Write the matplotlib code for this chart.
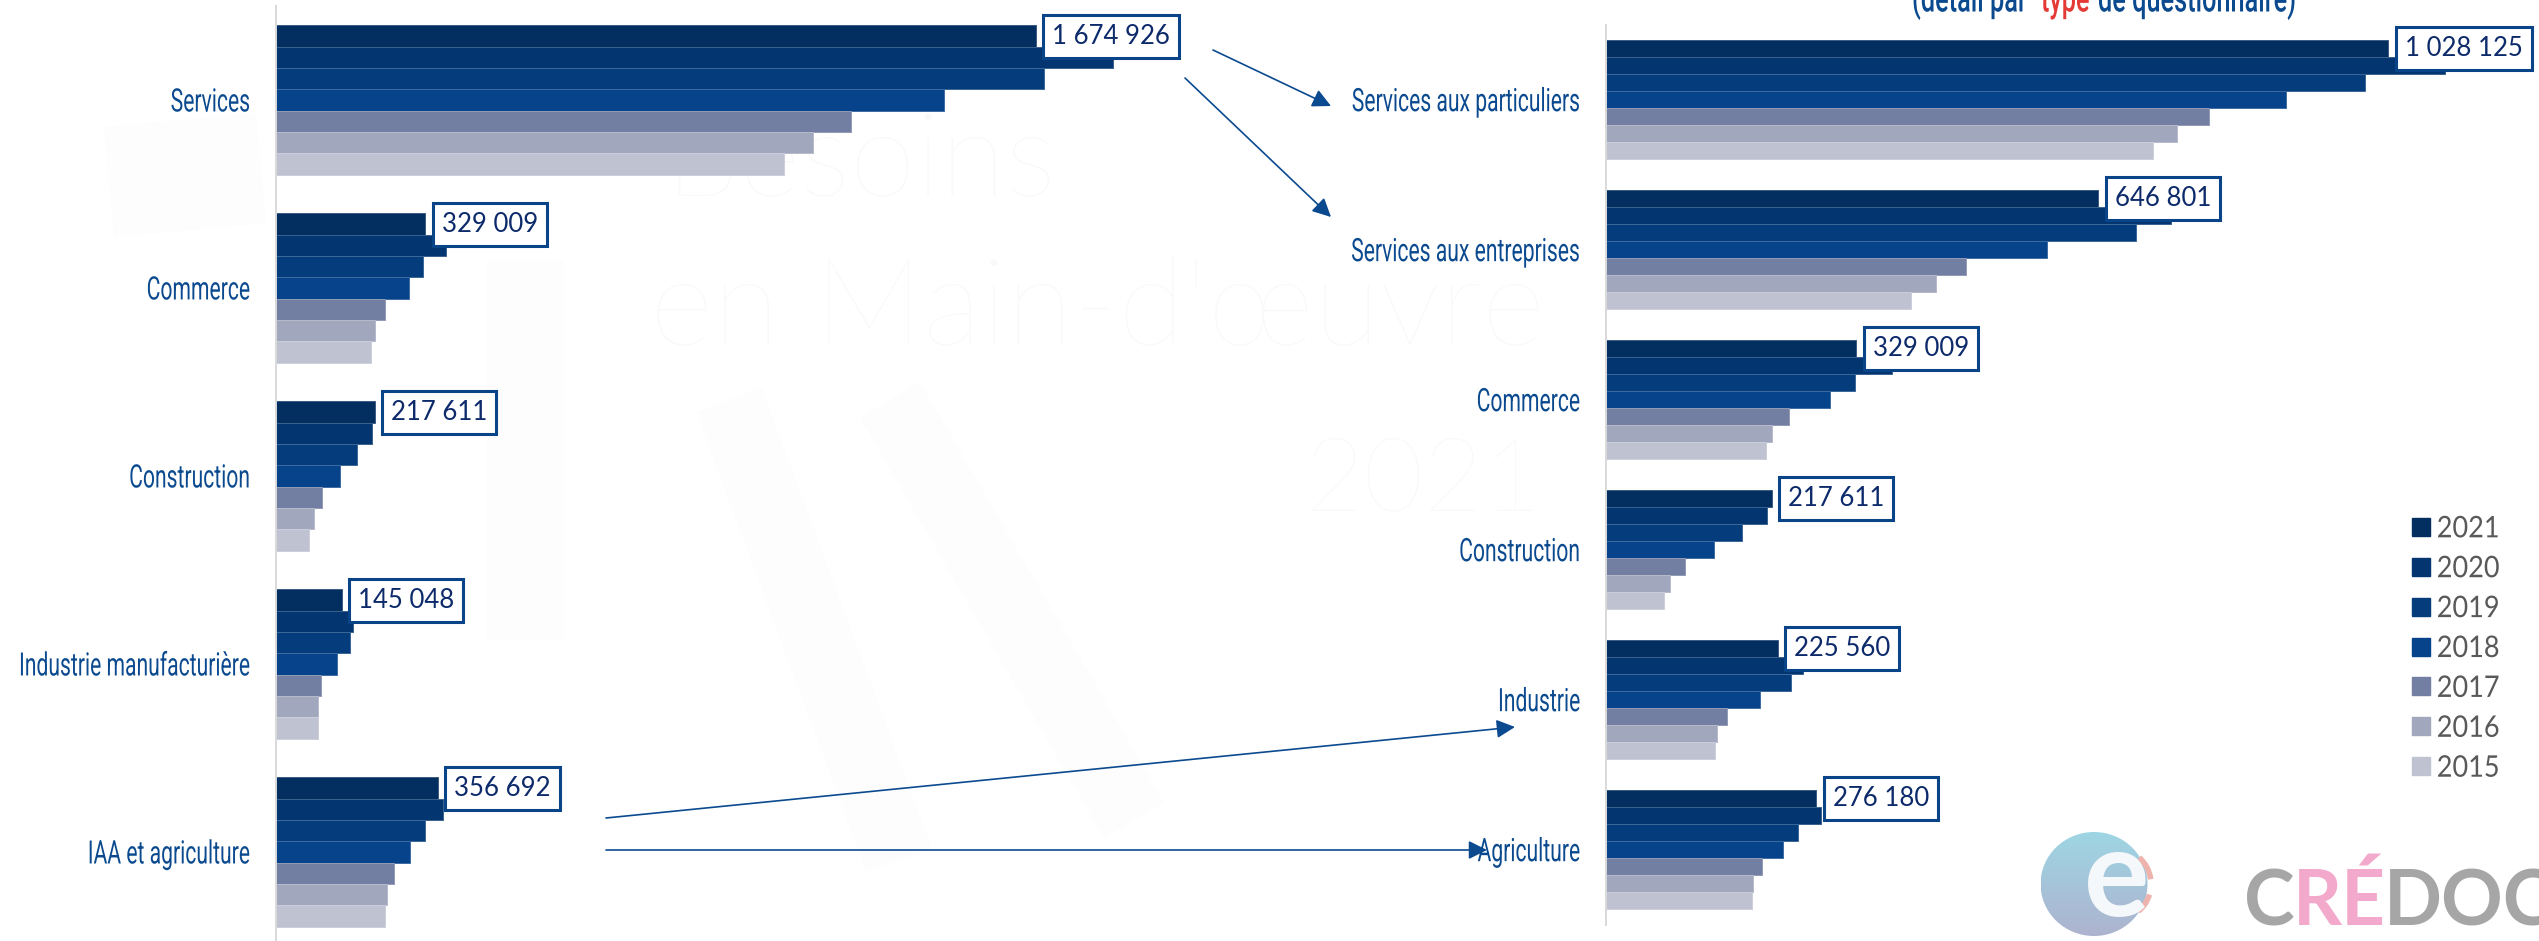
import numpy as np
import matplotlib
matplotlib.use("Agg")
import matplotlib.pyplot as plt
from matplotlib import font_manager as fm
from matplotlib import patheffects as pe
from matplotlib.transforms import Affine2D
from matplotlib.patches import Patch, Ellipse, Arc
from matplotlib.colors import to_rgb

years = ["2021", "2020", "2019", "2018", "2017", "2016", "2015"]
colors = ["#032E60", "#033670", "#043C7C", "#06438A", "#727FA2", "#A1A7BC", "#BEC2D1"]

left_cats = ["Services", "Commerce", "Construction", "Industrie manufacturière", "IAA et agriculture"]
left_vals = [
    [1674926, 1844500, 1692800, 1473100, 1267800, 1183900, 1119600],
    [329009, 375000, 323200, 292800, 239300, 217800, 208900],
    [217611, 210700, 178600, 141100, 101800, 83900, 73200],
    [145048, 169600, 162500, 133900, 100000, 92900, 92900],
    [356692, 367800, 328500, 296400, 260700, 244600, 239300],
]
right_cats = ["Services aux particuliers", "Services aux entreprises", "Commerce", "Construction", "Industrie", "Agriculture"]
right_vals = [
    [1028125, 1102600, 997300, 893000, 792900, 750300, 718400],
    [646801, 741800, 696000, 580000, 473600, 434200, 401200],
    [329009, 375700, 326700, 293700, 240500, 218200, 210700],
    [217611, 211800, 178800, 141600, 104300, 84100, 75600],
    [225560, 258600, 242700, 202200, 159600, 145800, 142600],
    [276180, 282000, 252200, 233100, 205400, 193700, 191600],
]
labels_left = ["1 674 926", "329 009", "217 611", "145 048", "356 692"]
labels_right = ["1 028 125", "646 801", "329 009", "217 611", "225 560", "276 180"]

W, H = 2539, 941
fig = plt.figure(figsize=(W/100, H/100), dpi=100, facecolor="white")
BLUE = "#0B4A8F"
NARROW = "Roboto"
NUMF = "Lato"


class TallText(pe.AbstractPathEffect):
    """Stretch a text vertically about mid cap height: the reference face is a condensed one."""
    def __init__(self, sy):
        super().__init__()
        self.sy = sy

    def draw_path(self, renderer, gc, tpath, affine, rgbFace=None):
        pre = Affine2D().translate(0, -35.5).scale(1, self.sy).translate(0, 35.5)
        renderer.draw_path(gc, tpath, pre + affine, rgbFace)


def fx(x): return x / W
def fy(y): return 1 - y / H

# faint background artwork
bg = fig.add_axes([0, 0, 1, 1], zorder=0)
bg.set_xlim(0, W); bg.set_ylim(H, 0); bg.axis("off")
for a, b, lw in [((729, 400), (899, 860), 50), ((890, 400), (1134, 820), 50), ((525, 260), (525, 640), 55), ((180, 120), (190, 230), 110)]:
    bg.plot([a[0], b[0]], [a[1], b[1]], color="#FDFDFE", lw=lw, solid_capstyle="butt")
for s, x, y, fs in [("Besoins", 664, 195, 86), ("en Main-d'œuvre", 650, 345, 88), ("2021", 1304, 510, 74)]:
    bg.text(x, y, s, color="#F9F9FA", fontsize=fs, family="Lato", weight="light")


def lighten(c, t=0.22):
    r = np.array(to_rgb(c))
    return tuple(r + (1 - r) * t)


def panel(x0, y0, x1, y1, cats, vals, labels, scale, group_frac, fs_lab, sy):
    ax = fig.add_axes([fx(x0), fy(y1), fx(x1 - x0), (y1 - y0) / H], zorder=2)
    ax.patch.set_alpha(0)
    n = len(cats)
    h = group_frac / 7
    for j, yr in enumerate(years):
        off = (j - 3) * h
        v = [row[j] for row in vals]
        ax.barh(np.arange(n) + off, v, height=h, color=colors[j], edgecolor=lighten(colors[j]), linewidth=0.7, zorder=2)
    ax.set_ylim(n - 0.5, -0.5)
    ax.set_xlim(0, (x1 - x0) / scale)
    for s in ["top", "right", "bottom"]:
        ax.spines[s].set_visible(False)
    ax.spines["left"].set_color("#D9D9D9")
    ax.spines["left"].set_linewidth(1.4)
    ax.spines["left"].set_zorder(3)
    ax.set_xticks([])
    ax.set_yticks(np.arange(n), cats, family=NARROW, fontsize=fs_lab, color=BLUE)
    for t in ax.get_yticklabels():
        t.set_path_effects([TallText(sy)])
    ax.tick_params(axis="y", length=0, pad=18.5)
    for i, lab in enumerate(labels):
        ax.annotate(lab, (vals[i][0], i - 3 * h), xytext=(11.8, 0), textcoords="offset points",
                    ha="left", va="center", fontsize=18.5, family=NUMF, color="#0D2A6B", zorder=5,
                    bbox=dict(boxstyle="square,pad=0.35", fc="white", ec="#0A4488", lw=2.2))
    return ax


panel(276, 6, 1240, 946, left_cats, left_vals, labels_left, 760 / 1674926, 0.794, 15.2, 1.53)
panel(1606, 24.7, 2500, 924.7, right_cats, right_vals, labels_right, 782.4 / 1028125, 0.795, 15.2, 1.53)

# arrows between the panels
ov = fig.add_axes([0, 0, 1, 1], zorder=10)
ov.set_xlim(0, W); ov.set_ylim(H, 0); ov.axis("off"); ov.patch.set_alpha(0)
for a, b in [((1213, 50), (1331, 106)), ((1185, 78), (1331, 217)), ((606, 818), (1515, 727)), ((606, 850), (1487, 850))]:
    ov.annotate("", xy=b, xytext=a, arrowprops=dict(arrowstyle="-|>,head_length=0.8,head_width=0.4", color=BLUE, lw=1.2, shrinkA=0, shrinkB=0, mutation_scale=14))

# clipped subtitle
for s, x, c in [("(détail par", 1912, BLUE), ("type", 2041, "#E53935"), ("de questionnaire)", 2098, BLUE)]:
    t = ov.text(x, 7, s, color=c, fontsize=18.2, family=NARROW, weight="medium", va="baseline", ha="left")
    t.set_path_effects([TallText(1.5)])

# legend
handles = [Patch(color=c, label=y) for c, y in zip(colors, years)]
leg = fig.legend(handles=handles, loc="upper left", bbox_to_anchor=(fx(2388), fy(492)), frameon=False,
                 prop=fm.FontProperties(family=NUMF, size=19.5), labelcolor="#595959",
                 handlelength=0.65, handleheight=0.65, handletextpad=0.25, labelspacing=0.55)
for t in leg.get_texts():
    t.set_path_effects([TallText(1.1)])

# logos
grad = np.linspace(0, 1, 128)[:, None, None]
top, bot = np.array(to_rgb("#9ED6E4")), np.array(to_rgb("#ADB3CF"))
img = ov.imshow(top + (bot - top) * grad, extent=(2041, 2148, 936, 832), aspect="auto", zorder=1)
clip = Ellipse((2094, 884), 107, 104, transform=ov.transData, fc="none", ec="none")
ov.add_patch(clip)
img.set_clip_path(clip)
ov.set_xlim(0, W); ov.set_ylim(H, 0)
for t1, t2 in [(-50, -8), (18, 52)]:
    ov.add_patch(Arc((2117, 884), 68, 70, theta1=t1, theta2=t2, ec="#EDB3AC", lw=4, zorder=2))
ov.text(2117, 916, "e", color="#F5F8FB", fontsize=88, family="Lato", weight="bold", ha="center", va="baseline", zorder=3)
for s, x, c in [("C", 2244, "#A6A6A6"), ("RÉ", 2293, "#F2A9CB"), ("DOC", 2384, "#A6A6A6")]:
    ov.text(x, 925, s, color=c, fontsize=55, family="Lato", weight="bold", va="baseline", ha="left", zorder=3)

fig.savefig("out.png", dpi=100)
